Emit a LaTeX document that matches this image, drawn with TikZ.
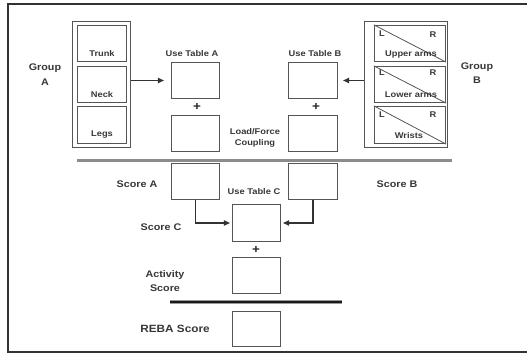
\documentclass[tikz,border=0pt]{standalone}
\usepackage{fontspec}
\setmainfont{Liberation Sans}[FakeStretch=1.12]
\usetikzlibrary{arrows.meta}
\definecolor{boxc}{RGB}{85,85,85}
\definecolor{txtc}{RGB}{55,55,55}
\definecolor{framec}{RGB}{50,50,50}
\begin{document}
\begin{tikzpicture}[x=1pt,y=-1pt,
  bx/.style n args={2}{draw=boxc,line width=1.3pt,inner sep=0pt,minimum width=#1,minimum height=#2},
  lbl/.style={font=\bfseries\fontsize{8.3}{9}\selectfont,text=txtc,inner sep=0pt},
  big/.style={font=\bfseries\fontsize{9.6}{10}\selectfont,text=txtc,inner sep=0pt},
  plus/.style={font=\bfseries\fontsize{12}{12}\selectfont,text=black!85,inner sep=0pt},
  arr/.style={draw=framec,line width=1.1pt,-{Triangle[length=6pt,width=5.5pt]}},
  diag/.style={draw=boxc,line width=0.8pt}
]
\useasboundingbox (0,0) rectangle (527,353);
% frame
\draw[line width=1.2pt,color=framec] (527,4) -- (8,4) -- (8,352) -- (527,352);

% Group A
\node[bx={58pt}{126pt}] (ga) at (101.5,84.5) {};
\node[bx={49pt}{36pt}] (trunk) at (102,43.5) {};
\node[bx={49pt}{36pt}] (neck) at (102,84.5) {};
\node[bx={49pt}{37pt}] (legs) at (102,125) {};
\node[lbl] (ttrunk) at (102,54) {Trunk};
\node[lbl] (tneck) at (102,95) {Neck};
\node[lbl] (tlegs) at (102,135) {Legs};
\node[big] (gAa) at (45,68) {Group};
\node[big] (gAb) at (45,82) {A};

% Group B
\node[bx={83pt}{126pt}] (gb) at (406,84.5) {};
\node[bx={71pt}{36pt}] (ua) at (410,43.5) {};
\node[bx={71pt}{36pt}] (la) at (410,84.5) {};
\node[bx={71pt}{37pt}] (wr) at (410,125) {};
\draw[diag] (ua.north west) -- (ua.south east);
\draw[diag] (la.north west) -- (la.south east);
\draw[diag] (wr.north west) -- (wr.south east);
\node[lbl] (tua) at (411,55) {Upper arms};
\node[lbl] (tla) at (411,95) {Lower arms};
\node[lbl] (twr) at (409,136) {Wrists};
\node[lbl] (l1) at (382,34) {L};
\node[lbl] (r1) at (433,35) {R};
\node[lbl] (l2) at (382,73) {L};
\node[lbl] (r2) at (433,73) {R};
\node[lbl] (l3) at (382,115) {L};
\node[lbl] (r3) at (433,115) {R};
\node[big] (gBa) at (477,67) {Group};
\node[big] (gBb) at (477,80) {B};

% tables A, B
\node[bx={48pt}{36pt}] (ta) at (195.5,80.5) {};
\node[bx={48pt}{36pt}] (lda) at (195.5,133.5) {};
\node[bx={48pt}{36pt}] (sa) at (195.5,181.5) {};
\node[bx={49pt}{36pt}] (tb) at (313,80.5) {};
\node[bx={49pt}{36pt}] (ldb) at (313,133.5) {};
\node[bx={49pt}{36pt}] (sb) at (313,181.5) {};
\node[lbl] (uta) at (192,54) {Use Table A};
\node[lbl] (utb) at (315,54) {Use Table B};
\node[plus] (pa) at (197,107) {+};
\node[plus] (pb) at (316,107) {+};
\node[lbl] (lf1) at (255,132) {Load/Force};
\node[lbl] (lf2) at (255,143) {Coupling};

\draw[arr,shorten >=7pt] (ga.east |- ta.west) -- (ta.west);
\draw[arr,shorten >=5pt] (gb.west |- tb.east) -- (tb.east);

% separator
\draw[line width=3pt,color=black!45] (77,160) -- (452,160);

\node[big] (tsa) at (137,184) {Score A};
\node[big] (tsb) at (397,184) {Score B};

% table C
\node[bx={48pt}{37pt}] (tc) at (256.5,223) {};
\node[lbl] (utc) at (254,192) {Use Table C};
\node[big] (tsc) at (161,227) {Score C};
\draw[arr,shorten >=2pt] (sa.south) -- (sa.south |- tc.west) -- (tc.west);
\draw[arr,shorten >=2pt] (sb.south) -- (sb.south |- tc.east) -- (tc.east);
\node[plus] (pc) at (256,250) {+};
\node[bx={48pt}{36pt}] (ac) at (256.5,275.5) {};
\node[big] (tac1) at (165,275) {Activity};
\node[big] (tac2) at (165,288) {Score};

\draw[line width=3.6pt,color=black!40] (170,302) -- (342,302);
\draw[line width=2pt,color=black!90] (170,302) -- (342,302);

\node[bx={48pt}{35pt}] (reba) at (256.5,329) {};
\node[font=\bfseries\fontsize{10.5}{11}\selectfont,text=txtc,inner sep=0pt] (treba) at (175,329) {REBA Score};
\end{tikzpicture}
\end{document}
